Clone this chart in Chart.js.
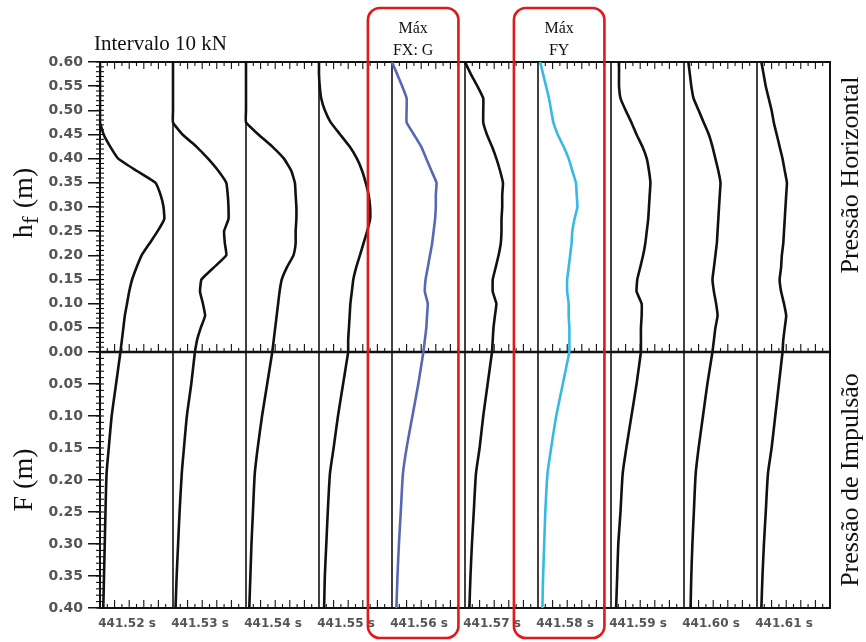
<!DOCTYPE html>
<html><head><meta charset="utf-8">
<script src="https://cdn.jsdelivr.net/npm/chart.js@4/dist/chart.umd.min.js"></script>
<style>html,body{margin:0;padding:0;background:#fff}#wrap{width:866px;height:642px;position:relative}</style>
</head><body><div id="wrap"><canvas id="c" width="866" height="642"></canvas></div>
<script>
// ---------- DATA ----------
const timeLabels = ['441.52 s','441.53 s','441.54 s','441.55 s','441.56 s','441.57 s','441.58 s','441.59 s','441.60 s','441.61 s'];
const upperTicks = [0.60,0.55,0.50,0.45,0.40,0.35,0.30,0.25,0.20,0.15,0.10,0.05,0.00];
const lowerTicks = [0.05,0.10,0.15,0.20,0.25,0.30,0.35,0.40];
// heights (m) for the horizontal-pressure profiles
const heightGrid = [0.600,0.575,0.550,0.525,0.500,0.475,0.450,0.425,0.400,0.375,0.350,0.325,0.300,0.275,0.250,0.225,0.200,0.175,0.150,0.125,0.100,0.075,0.050,0.025,0.000];
// depths (m) for the uplift profiles
const depthGrid = [0.00,0.05,0.10,0.15,0.19,0.25,0.30,0.35,0.40];
// horizontal pressure (kN, interval 10 kN) per instant
const horiz_44152 = [0,0,0,0,0,0,0.5,1.4,2.5,5.0,7.6,8.3,8.7,8.8,7.9,6.8,5.7,5.0,4.4,4.0,3.7,3.4,3.2,3.0,2.8];
const horiz_44153 = [0,0,0,0,0,0,1.3,3.2,4.8,6.2,7.3,7.5,7.6,7.6,7.0,7.1,7.3,5.6,3.9,3.7,4.1,4.4,3.8,3.3,3.0];
const horiz_44154 = [0,0,0,0,0,0,1.7,3.6,5.2,6.2,6.7,6.8,6.9,6.9,6.8,6.8,6.5,5.6,4.9,4.6,4.4,4.2,4.0,3.8,3.6];
const horiz_44155 = [0,0,0.1,0.3,0.8,1.6,2.9,4.2,5.2,5.9,6.4,6.8,7.0,7.0,6.6,6.1,5.6,5.1,4.7,4.5,4.3,4.2,4.1,4.0,4.0];
const horiz_44156 = [0,0.7,1.4,2.0,2.0,2.0,3.0,4.0,4.7,5.4,6.1,6.0,6.0,5.9,5.7,5.5,5.2,4.9,4.6,4.5,4.9,4.8,4.7,4.5,4.3];
const horiz_44157 = [0,0.8,1.7,2.5,2.5,2.5,3.0,3.7,4.3,4.8,5.2,5.1,5.1,5.0,5.0,4.9,4.6,4.2,3.8,3.8,4.3,4.1,3.9,3.8,3.7];
const horiz_44158 = [0.3,0.7,1.1,1.5,1.8,2.1,2.7,3.5,4.2,4.7,5.2,5.3,5.4,5.0,4.7,4.6,4.4,4.2,4.0,4.0,4.2,4.2,4.3,4.3,4.3];
const horiz_44159 = [1.1,1.1,1.1,1.3,2.0,2.8,3.5,4.3,4.9,5.2,5.4,5.3,5.2,5.1,4.9,4.7,4.4,4.0,3.6,3.5,4.2,4.2,4.1,4.1,4.1];
const horiz_44160 = [0.6,0.8,1.0,1.3,2.0,2.7,3.4,3.9,4.3,4.7,5.0,4.9,4.8,4.7,4.6,4.5,4.3,4.1,3.9,4.1,4.4,4.6,4.3,4.1,3.9];
const horiz_44161 = [0.6,0.9,1.2,1.6,2.0,2.3,2.7,3.1,3.5,3.8,4.1,4.0,3.9,3.8,3.7,3.6,3.4,3.3,3.1,3.3,3.7,4.0,3.8,3.6,3.5];
// uplift pressure (kN) per instant
const impul_44152 = [2.8,2.2,1.6,1.2,0.9,0.75,0.65,0.55,0.45];
const impul_44153 = [3.0,2.5,1.9,1.5,1.2,0.9,0.7,0.5,0.35];
const impul_44154 = [3.6,2.9,2.2,1.6,1.2,0.95,0.75,0.6,0.45];
const impul_44155 = [4.0,3.3,2.6,2.0,1.5,1.2,1.0,0.8,0.7];
const impul_44156 = [4.3,3.6,2.8,2.0,1.5,1.2,0.95,0.75,0.6];
const impul_44157 = [3.7,3.1,2.5,2.0,1.5,1.2,0.95,0.75,0.6];
const impul_44158 = [4.3,3.4,2.5,1.8,1.3,1.0,0.85,0.7,0.6];
const impul_44159 = [4.1,3.5,2.8,2.1,1.6,1.3,1.0,0.85,0.7];
const impul_44160 = [3.9,3.2,2.6,2.0,1.6,1.35,1.15,1.0,0.9];
const impul_44161 = [3.5,3.0,2.5,2.0,1.5,1.2,0.95,0.75,0.6];
const panelInterval = 10; // kN between instants
const highlighted = [{panel:4, lines:['Máx','FX: G']},{panel:6, lines:['Máx','FY']}];

// ---------- BUILD ----------
const horizAll = [horiz_44152,horiz_44153,horiz_44154,horiz_44155,horiz_44156,horiz_44157,horiz_44158,horiz_44159,horiz_44160,horiz_44161];
const impulAll = [impul_44152,impul_44153,impul_44154,impul_44155,impul_44156,impul_44157,impul_44158,impul_44159,impul_44160,impul_44161];
const lineColors = timeLabels.map((_, i) => i === 4 ? '#5668b4' : (i === 6 ? '#36b9e2' : '#111111'));
const datasets = [];
timeLabels.forEach((lab, i) => {
  const base = i * panelInterval;
  datasets.push({label: lab + ' horiz', yAxisID: 'yTop',
    data: heightGrid.map((h, k) => ({x: base + horizAll[i][k], y: h})),
    borderColor: lineColors[i], borderWidth: 2.6, tension: 0.12});
  datasets.push({label: lab + ' impul', yAxisID: 'yBot',
    data: depthGrid.map((d, k) => ({x: base + impulAll[i][k], y: d})),
    borderColor: lineColors[i], borderWidth: 2.6, tension: 0.2});
});

function seg(ctx, x1, y1, x2, y2){ctx.beginPath();ctx.moveTo(x1,y1);ctx.lineTo(x2,y2);ctx.stroke();}

const decor = {
  id: 'decor',
  beforeDatasetsDraw(chart){
    const {ctx, chartArea: a, scales} = chart;
    const x = scales.x, yT = scales.yTop, yB = scales.yBot;
    ctx.save();
    ctx.strokeStyle = '#111';
    ctx.lineWidth = 1.6;
    for (let i = 1; i < timeLabels.length; i++) {
      const px = x.getPixelForValue(i * panelInterval);
      seg(ctx, px, a.top, px, a.bottom);
    }
    ctx.lineWidth = 1.1;
    const mid = yT.bottom;
    for (let v = 1; v < timeLabels.length * panelInterval; v++) {
      if (v % panelInterval === 0) continue;
      const px = x.getPixelForValue(v);
      const tall = v % 2 === 0;
      seg(ctx, px, a.top, px, a.top + (tall ? 7 : 4));
      seg(ctx, px, mid, px, mid - (tall ? 8 : 4));
      seg(ctx, px, a.bottom, px, a.bottom - (tall ? 8 : 4));
    }
    for (let h = 0; h <= 60; h++) { const py = yT.getPixelForValue(h / 100); seg(ctx, a.left - 4, py, a.left + 4, py); }
    for (let d = 0; d <= 40; d++) { const py = yB.getPixelForValue(d / 100); seg(ctx, a.left - 4, py, a.left + 4, py); }
    ctx.lineWidth = 2;
    ctx.strokeRect(a.left, a.top, a.right - a.left, a.bottom - a.top);
    ctx.lineWidth = 2.6;
    seg(ctx, a.left, mid, a.right, mid);
    ctx.restore();
  },
  afterDraw(chart){
    const {ctx, chartArea: a, scales} = chart;
    const x = scales.x, yT = scales.yTop, yB = scales.yBot;
    ctx.save();
    // highlight boxes
    ctx.strokeStyle = '#e01a1a';
    ctx.lineWidth = 2.6;
    highlighted.forEach(hb => {
      const l = x.getPixelForValue(hb.panel * panelInterval - 3.3);
      const r = x.getPixelForValue(hb.panel * panelInterval + 9.1);
      const t = 8, b = 638, rad = 12;
      ctx.beginPath();
      ctx.moveTo(l + rad, t); ctx.lineTo(r - rad, t); ctx.arcTo(r, t, r, t + rad, rad);
      ctx.lineTo(r, b - rad); ctx.arcTo(r, b, r - rad, b, rad);
      ctx.lineTo(l + rad, b); ctx.arcTo(l, b, l, b - rad, rad);
      ctx.lineTo(l, t + rad); ctx.arcTo(l, t, l + rad, t, rad);
      ctx.closePath(); ctx.stroke();
      ctx.fillStyle = '#111';
      ctx.font = '16px "Liberation Serif", serif';
      ctx.textAlign = 'center'; ctx.textBaseline = 'alphabetic';
      const cx = (l + r) / 2;
      ctx.fillText(hb.lines[0], cx, 33);
      ctx.fillText(hb.lines[1], cx, 55);
    });
    // header
    ctx.fillStyle = '#111';
    ctx.textAlign = 'left';
    ctx.font = '21px "Liberation Serif", serif';
    ctx.fillText('Intervalo 10 kN', 94, 50);
    // left titles
    const drawRot = (cx, cy, parts) => {
      ctx.save(); ctx.translate(cx, cy); ctx.rotate(-Math.PI / 2);
      let total = 0;
      parts.forEach(p => { ctx.font = p.font; total += ctx.measureText(p.t).width + (p.gap || 0); });
      let pos = -total / 2;
      parts.forEach(p => { ctx.font = p.font; ctx.textAlign = 'left'; ctx.fillText(p.t, pos, p.dy || 0); pos += ctx.measureText(p.t).width + (p.gap || 0); });
      ctx.restore();
    };
    const serif = '"Liberation Serif", serif';
    const topMid = (yT.top + yT.bottom) / 2, botMid = (yB.top + yB.bottom) / 2;
    drawRot(32, topMid - 4, [{t:'h', font:'28px ' + serif},{t:'f', font:'24px ' + serif, dy:6, gap:8},{t:'(m)', font:'28px ' + serif}]);
    drawRot(32, botMid, [{t:'F (m)', font:'28px ' + serif}]);
    drawRot(858, topMid - 32, [{t:'Pressão Horizontal', font:'26px ' + serif}]);
    drawRot(858, botMid, [{t:'Pressão de Impulsão', font:'26px ' + serif}]);
    ctx.restore();
  }
};

const tickFont = {family: '"DejaVu Sans", sans-serif', size: 14, weight: 'bold'};
new Chart(document.getElementById('c'), {
  type: 'scatter',
  data: {datasets},
  options: {
    responsive: false, animation: false, devicePixelRatio: 1,
    layout: {padding: {top: 62, right: 36, left: 0, bottom: 0}},
    elements: {point: {radius: 0}, line: {fill: false}},
    datasets: {scatter: {showLine: true, pointRadius: 0}},
    plugins: {legend: {display: false}, tooltip: {enabled: false}, title: {display: false}},
    scales: {
      x: {type: 'linear', min: 0, max: timeLabels.length * panelInterval, position: 'bottom',
        grid: {display: false}, border: {display: false},
        afterBuildTicks: s => { s.ticks = timeLabels.map((_, i) => ({value: i * panelInterval + 3.7})); },
        afterFit: s => { s.height = 34; },
        ticks: {autoSkip: false, maxRotation: 0, padding: 1, color: '#555', font: {family: '"DejaVu Sans", sans-serif', size: 12, weight: 'bold'},
          callback: (v, i) => timeLabels[i]}},
      yBot: {type: 'linear', position: 'left', stack: 'h', stackWeight: 256, min: 0, max: 0.4, reverse: true,
        afterBuildTicks: s => { s.ticks = lowerTicks.map(v => ({value: v})); },
        afterFit: s => { s.width = 100; },
        grid: {drawOnChartArea: false, tickLength: 12, color: '#111', lineWidth: 1.5},
        border: {display: true, color: '#111', width: 2},
        ticks: {autoSkip: false, padding: 5, color: '#555', font: tickFont, callback: v => Number(v).toFixed(2)}},
      yTop: {type: 'linear', position: 'left', stack: 'h', stackWeight: 290, min: 0, max: 0.6,
        afterBuildTicks: s => { s.ticks = upperTicks.map(v => ({value: v})); },
        afterFit: s => { s.width = 100; },
        grid: {drawOnChartArea: false, tickLength: 12, color: '#111', lineWidth: 1.5},
        border: {display: true, color: '#111', width: 2},
        ticks: {autoSkip: false, padding: 5, color: '#555', font: tickFont, callback: v => Number(v).toFixed(2)}}
    }
  },
  plugins: [decor]
});
</script></body></html>
